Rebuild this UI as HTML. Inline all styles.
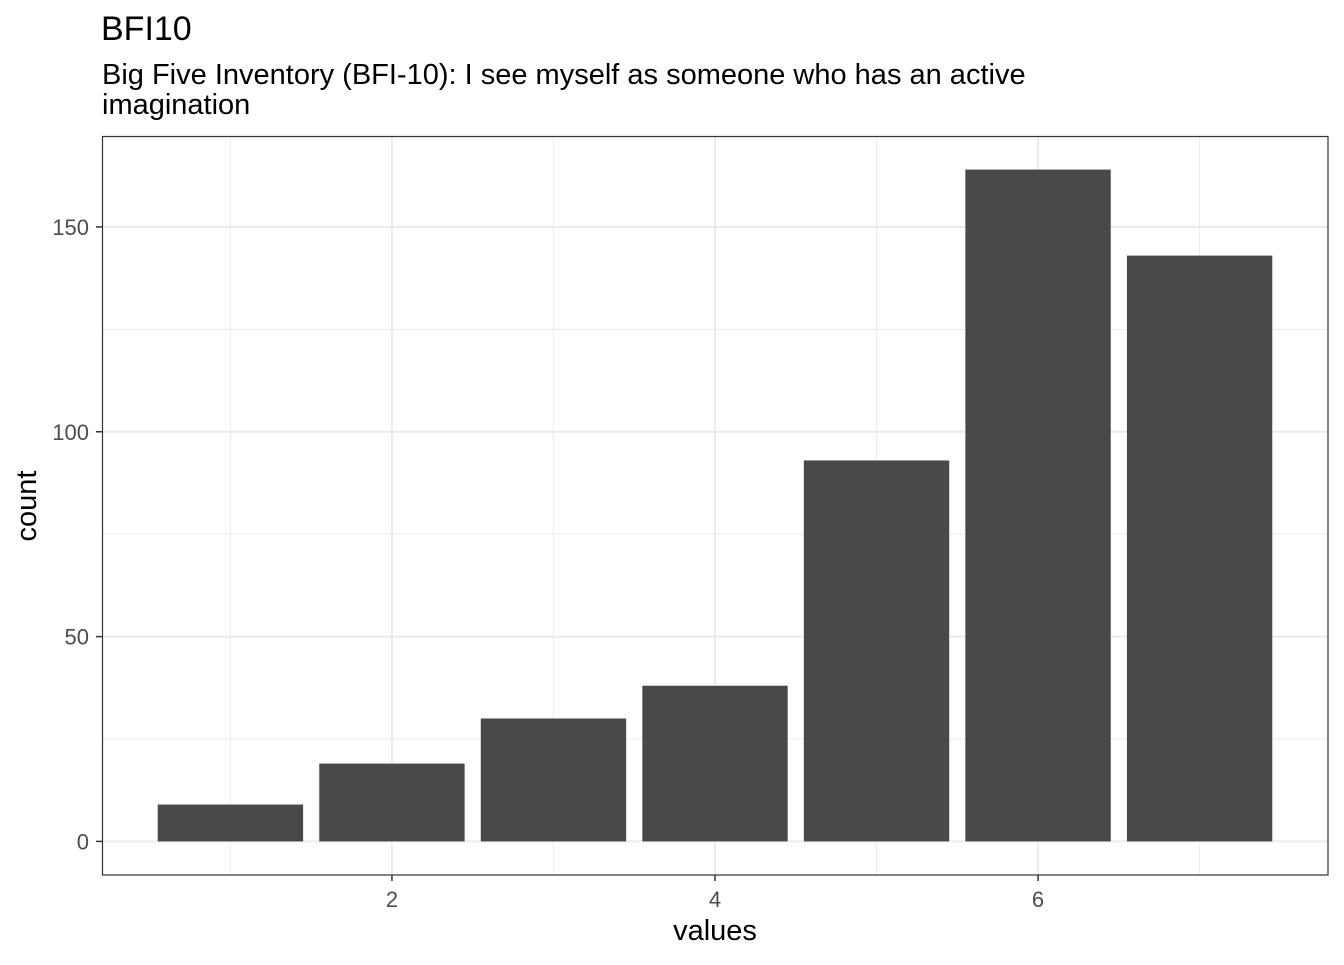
<!DOCTYPE html>
<html><head><meta charset="utf-8"><style>
body{margin:0;background:#fff;}
svg text{font-family:"Liberation Sans",Arial,sans-serif;}
</style></head><body>
<svg id="chart" width="1344" height="960" xmlns="http://www.w3.org/2000/svg">
<rect width="1344" height="960" fill="#fff"/>
<text x="101" y="40" style="font-size:34px" fill="#000">BFI10</text>
<text x="102" y="84" style="font-size:29px" fill="#000">Big Five Inventory (BFI-10): I see myself as someone who has an active</text>
<text x="102" y="114" style="font-size:29px" fill="#000">imagination</text>
<g id="grid"></g>
<g id="bars"></g>
<rect x="102.5" y="136.5" width="1225.5" height="738.5" fill="none" stroke="#333" stroke-width="1.2"/>
<g id="axes"></g>
<text x="715" y="940" style="font-size:29px" text-anchor="middle" fill="#000">values</text>
<text transform="translate(36,506) rotate(-90)" style="font-size:29px" text-anchor="middle" fill="#000">count</text>
</svg>
<script>
const categories=[1,2,3,4,5,6,7];
const counts=[9,19,30,38,93,164,143];
const xTicks=[2,4,6];
const yTicks=[0,50,100,150];
const xMinor=[1,3,5,7];
const yMinor=[25,75,125];
const NS="http://www.w3.org/2000/svg";
const L=102,R=1328,T=136,B=875;
const xMin=0.205,xMax=7.795,yMin=-8.2,yMax=172.2;
const xs=v=>L+(v-xMin)/(xMax-xMin)*(R-L);
const ys=v=>B-(v-yMin)/(yMax-yMin)*(B-T);
function mk(tag,attrs,parent){const e=document.createElementNS(NS,tag);for(const k in attrs)e.setAttribute(k,attrs[k]);parent.appendChild(e);return e;}
const grid=document.getElementById('grid'),bars=document.getElementById('bars'),axes=document.getElementById('axes');
xMinor.forEach(v=>{const l=mk('line',{x1:xs(v),x2:xs(v),y1:T,y2:B,stroke:'#ebebeb','stroke-width':1},grid);

});
yMinor.forEach(v=>{const l=mk('line',{x1:L,x2:R,y1:ys(v),y2:ys(v),stroke:'#ebebeb','stroke-width':1},grid);

});
xTicks.forEach(v=>{const l=mk('line',{x1:xs(v),x2:xs(v),y1:T,y2:B,stroke:'#ebebeb','stroke-width':2},grid);


const t=mk('line',{x1:xs(v),x2:xs(v),y1:B,y2:B+6,stroke:'#333','stroke-width':1.5},axes);


const tx=mk('text',{x:xs(v),y:B+32,style:'font-size:22px','text-anchor':'middle',fill:'#4d4d4d'},axes);tx.textContent=v;

});
yTicks.forEach(v=>{const l=mk('line',{x1:L,x2:R,y1:ys(v),y2:ys(v),stroke:'#ebebeb','stroke-width':2},grid);


const t=mk('line',{x1:L-6,x2:L,y1:ys(v),y2:ys(v),stroke:'#333','stroke-width':1.5},axes);


const tx=mk('text',{x:L-13,y:ys(v)+8,style:'font-size:22px','text-anchor':'end',fill:'#4d4d4d'},axes);tx.textContent=v;

});
categories.forEach((c,i)=>{const x0=xs(c-0.45),x1=xs(c+0.45);
const r=mk('rect',{x:x0,y:ys(counts[i]),width:x1-x0,height:ys(0)-ys(counts[i]),fill:'#494949'},bars);

});
</script>
</body></html>
